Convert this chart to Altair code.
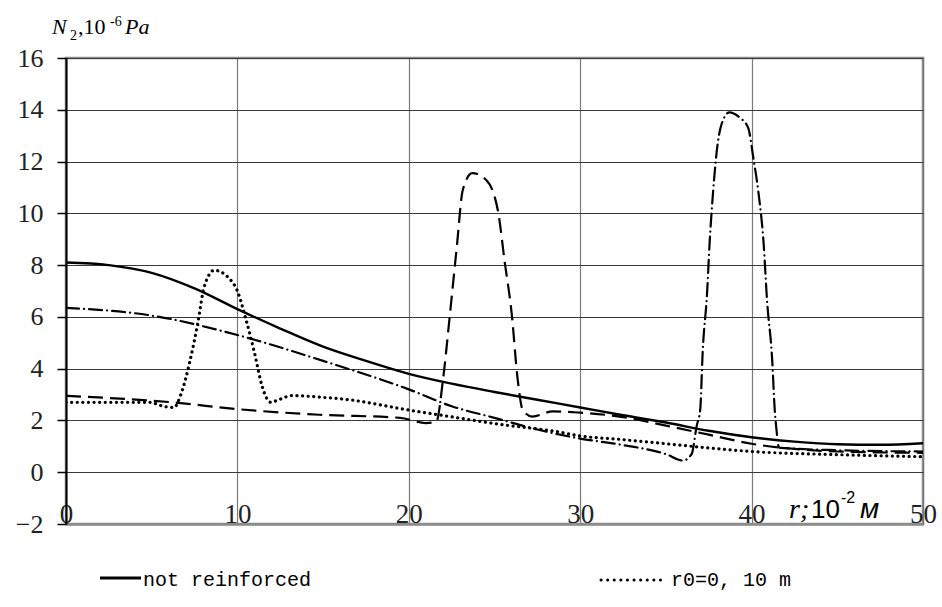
import altair as alt
import pandas as pd

# ---- data ----
x_solid = [0, 2.5, 5, 7.5, 10, 12.5, 15, 17.5, 20, 22.5, 25, 27.5, 30, 32.5, 35, 37.5, 40, 42.5, 45, 47.5, 50]
y_solid = [8.1, 8.0, 7.7, 7.1, 6.3, 5.55, 4.85, 4.3, 3.8, 3.42, 3.1, 2.8, 2.5, 2.2, 1.92, 1.6, 1.35, 1.18, 1.08, 1.06, 1.12]

x_dot = [0, 2.5, 5, 5.4, 6.3, 6.7, 7.2, 7.7, 8.06, 8.65, 9.5, 10, 10.5, 11, 11.45, 11.95, 12.4, 13.2, 14.8, 16.5, 20, 22.4, 25.3, 28.8, 30, 32.3, 35, 38.1, 40, 45, 50]
y_dot = [2.7, 2.7, 2.7, 2.6, 2.5, 3.0, 4.2, 5.8, 7.15, 7.8, 7.5, 7.0, 5.9, 4.6, 3.3, 2.7, 2.8, 2.96, 2.9, 2.8, 2.4, 2.15, 1.85, 1.55, 1.4, 1.27, 1.1, 0.9, 0.8, 0.68, 0.6]

x_dash = [0, 6.2, 10.1, 14.8, 19.5, 21, 21.6, 22, 22.4, 22.8, 23.15, 23.7, 24.5, 25.2, 25.6, 26, 26.35, 26.65, 27.2, 28.4, 30, 32.3, 35, 37.5, 40, 42.5, 45, 50]
y_dash = [2.95, 2.7, 2.43, 2.22, 2.1, 1.9, 1.95, 3.6, 6.1, 8.7, 10.9, 11.55, 11.3, 10.1, 8.1, 6.15, 3.6, 2.4, 2.15, 2.35, 2.3, 2.15, 1.8, 1.45, 1.1, 0.9, 0.8, 0.75]

x_dd = [0, 5, 10, 15, 20, 22.5, 25, 27.5, 30, 32.5, 35, 36, 36.5, 36.8, 37, 37.15, 37.4, 37.55, 37.75, 37.95, 38.25, 38.7, 39.3, 39.8, 40.1, 40.4, 40.7, 40.9, 41.2, 41.35, 41.45, 41.6, 45, 50]
y_dd = [6.35, 6.05, 5.3, 4.3, 3.2, 2.55, 2.1, 1.65, 1.3, 1.05, 0.7, 0.45, 0.7, 1.8, 2.4, 4.7, 6.9, 8.85, 10.8, 12.3, 13.45, 13.9, 13.7, 13.3, 12.15, 10.8, 8.85, 6.65, 4.35, 2.4, 1.65, 0.95, 0.85, 0.8]

x_ticks = [0, 10, 20, 30, 40, 50]
y_ticks = [-2, 0, 2, 4, 6, 8, 10, 12, 14, 16]
legend_labels = ["not reinforced", "r0=0, 10  m"]

W, H = 857, 466
SERIF = "Liberation Serif"
SANS = "Liberation Sans"
MONO = "Liberation Mono"

def frame(xs, ys):
    return pd.DataFrame({"x": xs, "y": ys})

xscale = alt.Scale(domain=[0, 50], nice=False, zero=False)
yscale = alt.Scale(domain=[-2, 16], nice=False, zero=False)

def line(df, dash=None, width=2.0, cap="butt"):
    kw = dict(color="black", strokeWidth=width, interpolate="monotone", strokeCap=cap, clip=True)
    if dash:
        kw["strokeDash"] = dash
    return alt.Chart(df).mark_line(**kw).encode(
        x=alt.X("x:Q", scale=xscale,
                axis=alt.Axis(values=x_ticks, title=None, grid=True, gridColor="#7a7a7a", gridWidth=1.2,
                              ticks=False, domainColor="#8c8c8c", domainWidth=2.5,
                              labelFont=SERIF, labelFontSize=27, labelColor="#222",
                              labelBaseline="alphabetic", labelPadding=-2, labelFlush=False,
                              labelAngle=0)),
        y=alt.Y("y:Q", scale=yscale,
                axis=alt.Axis(values=y_ticks, title=None, grid=True, gridColor="#3a3a3a", gridWidth=1.2,
                              ticks=True, tickSize=9, tickColor="black", tickWidth=1.5,
                              domainColor="black", domainWidth=2,
                              labelFont=SERIF, labelFontSize=26, labelColor="#222",
                              labelPadding=14)),
    )

solid = line(frame(x_solid, y_solid), width=2.4)
dotted = line(frame(x_dot, y_dot), dash=[0.1, 5.5], width=3.2, cap="round")
dashed = line(frame(x_dash, y_dash), dash=[15, 7], width=2.2)
dashdot = line(frame(x_dd, y_dd), dash=[13, 5, 0.1, 5], width=2.2, cap="round")

one = pd.DataFrame({"a": [0]})

def txt(s, x, y, size, font=SERIF, style="normal", align="left"):
    return alt.Chart(pd.DataFrame({"t": [s]})).mark_text(
        font=font, fontSize=size, fontStyle=style, align=align, baseline="alphabetic", color="black"
    ).encode(x=alt.value(x), y=alt.value(y), text="t:N")

# y-axis title  N2,10-6 Pa
ox, oy = -66, -58
title_layers = [
    txt("N", 52 + ox, 34 + oy, 22, style="italic"),
    txt("2", 70 + ox, 40 + oy, 14),
    txt(",10", 78 + ox, 34 + oy, 22),
    txt("-6", 110 + ox, 26 + oy, 14),
    txt("Pa", 125 + ox, 34 + oy, 22, style="italic"),
]
# x-axis title  r;10-2 м
xt_layers = [
    txt("r;", 789 + ox, 518 + oy, 28, style="italic"),
    txt("10", 811 + ox, 518 + oy, 26, font=SANS),
    txt("-2", 841 + ox, 503 + oy, 16, font=SANS),
    txt("м", 860 + ox, 518 + oy, 28, font=SANS, style="italic"),
]

# legend
leg_solid = alt.Chart(one).mark_rule(color="black", strokeWidth=3).encode(
    x=alt.value(100 + ox), x2=alt.value(141 + ox), y=alt.value(578 + oy))
leg_dot = alt.Chart(one).mark_rule(color="black", strokeWidth=3, strokeDash=[0.1, 6.5], strokeCap="round").encode(
    x=alt.value(601 + ox), x2=alt.value(664 + ox), y=alt.value(580 + oy))
leg_t1 = txt(legend_labels[0], 143 + ox, 586 + oy, 20, font=MONO)
leg_t2 = txt(legend_labels[1], 671 + ox, 586 + oy, 20, font=MONO)

chart = alt.layer(
    solid, dotted, dashed, dashdot,
    *title_layers, *xt_layers, leg_solid, leg_dot, leg_t1, leg_t2
).properties(
    width=W, height=H,
    autosize=alt.AutoSizeParams(type="none"),
    padding={"left": 66, "top": 58, "right": 942 - 66 - W, "bottom": 607 - 58 - H},
    background="white",
).configure_view(
    stroke="#8c8c8c", strokeWidth=2.5
)

chart.save("out.html", embed_options={"renderer": "svg", "actions": False})
